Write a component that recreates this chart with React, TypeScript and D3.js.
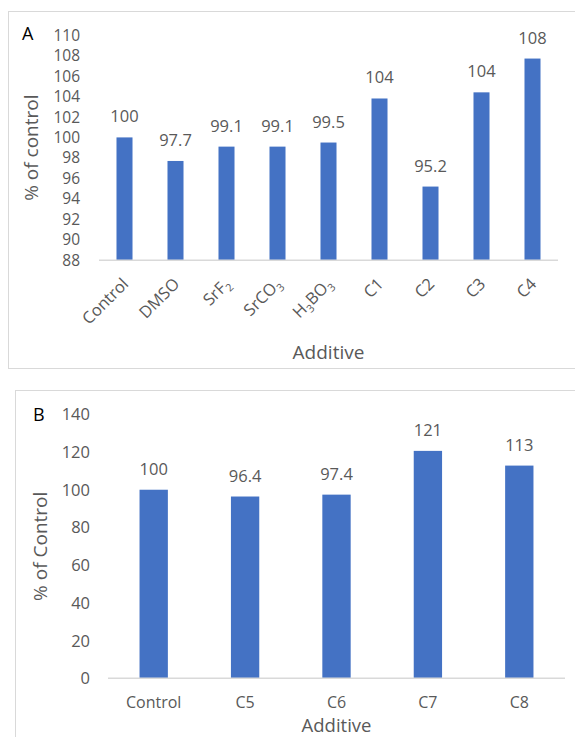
import React from "react";
import * as d3 from "d3";

// Panel A: growth relative to control for each additive
const additivesA = ["Control", "DMSO", "SrF₂", "SrCO₃", "H₃BO₃", "C1", "C2", "C3", "C4"];
const percentA = [100, 97.7, 99.1, 99.1, 99.5, 103.8, 95.2, 104.4, 107.7];
const ticksA = [88, 90, 92, 94, 96, 98, 100, 102, 104, 106, 108, 110];

// Panel B: compounds C5–C8 relative to control
const additivesB = ["Control", "C5", "C6", "C7", "C8"];
const percentB = [100, 96.4, 97.4, 120.6, 112.8];
const ticksB = [0, 20, 40, 60, 80, 100, 120, 140];

const BAR = "#4472C4";
const TEXT = "#595959";
const LINE = "#D9D9D9";
const FONT = "'Open Sans', 'Noto Sans', sans-serif";
const fmt = d3.format(".3");
const FS = 16.5;
const FT = 19;

// Renders subscript digits (₀–₉) as lowered, smaller tspans
function SubText({ label }: { label: string }) {
  const parts: { t: string; sub: boolean }[] = [];
  for (const ch of label) {
    const code = ch.charCodeAt(0);
    const sub = code >= 0x2080 && code <= 0x2089;
    const c = sub ? String.fromCharCode(code - 0x2080 + 48) : ch;
    const last = parts[parts.length - 1];
    if (last && last.sub === sub) last.t += c;
    else parts.push({ t: c, sub });
  }
  let shifted = false;
  return (
    <>
      {parts.map((p, i) => {
        let dy = 0;
        if (p.sub && !shifted) { dy = 4; shifted = true; }
        else if (!p.sub && shifted) { dy = -4; shifted = false; }
        return (
          <tspan key={i} dy={dy} fontSize={p.sub ? "0.65em" : undefined}>
            {p.t}
          </tspan>
        );
      })}
    </>
  );
}

export default function App() {
  // Panel A scales
  const xA = d3.scaleBand<string>().domain(additivesA).range([99, 558]).paddingInner(0.686).paddingOuter(0.343);
  const yA = d3.scaleLinear().domain([88, 110]).range([260.3, 35]);
  // Panel B scales
  const xB = d3.scaleBand<string>().domain(additivesB).range([108, 565]).paddingInner(0.69).paddingOuter(0.345);
  const yB = d3.scaleLinear().domain([0, 140]).range([678.3, 414.3]);

  return (
    <svg
      width={575}
      height={737}
      style={{ position: "absolute", left: 0, top: 0, background: "#fff" }}
      fontFamily={FONT}
    >
      {/* Panel A */}
      <rect x={8.5} y={11.5} width={600} height={357} fill="#fff" stroke={LINE} strokeWidth={1} />
      <text x={22} y={39.5} fontSize={18} fill="#000">A</text>
      {ticksA.map((t) => (
        <text key={t} x={80} y={yA(t)} dy="0.36em" textAnchor="end" fontSize={15.5} fill={TEXT}>
          {t}
        </text>
      ))}
      <text
        transform={`translate(31,${(yA(88) + yA(110)) / 2}) rotate(-90)`}
        textAnchor="middle"
        dominantBaseline="central"
        fontSize={FT}
        fill={TEXT}
      >
        % of control
      </text>
      {additivesA.map((c, i) => {
        const x = xA(c)!;
        const w = xA.bandwidth();
        const cx = x + w / 2;
        return (
          <g key={c}>
            <rect x={x} y={yA(percentA[i])} width={w} height={yA(88) - yA(percentA[i])} fill={BAR} />
            <text x={cx} y={yA(percentA[i]) - 15} textAnchor="middle" fontSize={FS} fill={TEXT}>
              {fmt(percentA[i])}
            </text>
            <text
              transform={`translate(${cx + 5},${285}) rotate(-45)`}
              textAnchor="end"
              fontSize={FS}
              fill={TEXT}
            >
              <SubText label={c} />
            </text>
          </g>
        );
      })}
      <line x1={99} x2={558} y1={yA(88)} y2={yA(88)} stroke={LINE} strokeWidth={1.5} />
      <text x={(99 + 558) / 2} y={359} textAnchor="middle" fontSize={FT} fill={TEXT}>
        Additive
      </text>

      {/* Panel B */}
      <rect x={15.5} y={390.5} width={600} height={400} fill="#fff" stroke={LINE} strokeWidth={1} />
      <text x={33} y={420.5} fontSize={18} fill="#000">B</text>
      {ticksB.map((t) => (
        <text key={t} x={90} y={yB(t)} dy="0.36em" textAnchor="end" fontSize={FS} fill={TEXT}>
          {t}
        </text>
      ))}
      <text
        transform={`translate(40,${(yB(0) + yB(140)) / 2}) rotate(-90)`}
        textAnchor="middle"
        dominantBaseline="central"
        fontSize={FT}
        fill={TEXT}
      >
        % of Control
      </text>
      {additivesB.map((c, i) => {
        const x = xB(c)!;
        const w = xB.bandwidth();
        const cx = x + w / 2;
        return (
          <g key={c}>
            <rect x={x} y={yB(percentB[i])} width={w} height={yB(0) - yB(percentB[i])} fill={BAR} />
            <text x={cx} y={yB(percentB[i]) - 15} textAnchor="middle" fontSize={FS} fill={TEXT}>
              {fmt(percentB[i])}
            </text>
            <text x={cx} y={708} textAnchor="middle" fontSize={16} fill={TEXT}>
              {c}
            </text>
          </g>
        );
      })}
      <line x1={108} x2={565} y1={yB(0)} y2={yB(0)} stroke={LINE} strokeWidth={1.5} />
      <text x={(108 + 565) / 2} y={731.5} textAnchor="middle" fontSize={18.5} fill={TEXT}>
        Additive
      </text>
    </svg>
  );
}
